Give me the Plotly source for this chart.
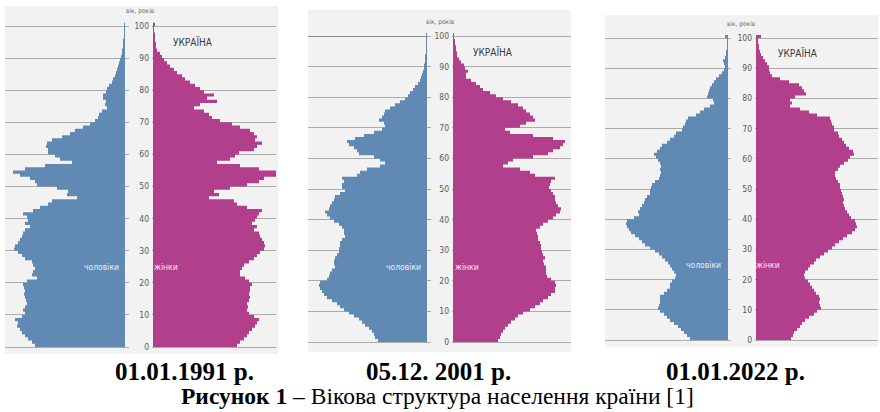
import plotly.graph_objects as go

W, H = 880, 412

ages = list(range(101))

# bar lengths (relative units, one series per sex and census)
men_1991 = [90, 93, 97, 100, 103, 105, 108, 107, 110, 103, 100, 102, 100, 98, 99, 100, 101, 100, 101, 102,
            98, 88, 93, 92, 90, 92, 93, 100, 103, 107, 111, 110, 107, 105, 103, 102, 100, 95, 100, 97,
            98, 102, 92, 85, 77, 73, 48, 58, 57, 68, 88, 90, 95, 105, 112, 100, 80, 53, 65, 70,
            77, 77, 79, 78, 73, 63, 55, 50, 42, 35, 30, 27, 26, 23, 18, 20, 19, 22, 22, 19,
            18, 16, 13, 12, 10, 9, 8, 7, 6, 5, 4, 3, 3, 2, 2, 2, 1, 1, 1, 1, 1]
women_1991 = [84, 87, 91, 94, 96, 99, 102, 104, 106, 101, 96, 94, 95, 94, 96, 97, 96, 97, 97, 99,
              96, 92, 87, 87, 89, 91, 96, 101, 104, 107, 111, 112, 111, 109, 107, 106, 101, 104, 99, 102,
              104, 106, 109, 94, 84, 81, 56, 66, 61, 77, 94, 106, 111, 126, 124, 106, 87, 64, 77, 82,
              86, 101, 104, 109, 102, 104, 101, 97, 87, 79, 67, 59, 56, 51, 41, 47, 64, 54, 61, 51,
              47, 42, 37, 32, 29, 24, 21, 17, 14, 11, 9, 7, 4, 3, 3, 2, 2, 2, 1, 1, 2]
men_2001 = [49, 52, 53, 55, 58, 62, 65, 68, 73, 78, 83, 87, 90, 95, 100, 103, 105, 107, 108, 107,
            100, 98, 97, 95, 92, 93, 93, 92, 90, 88, 88, 87, 87, 85, 82, 83, 83, 85, 88, 93,
            97, 100, 102, 98, 97, 95, 93, 92, 87, 82, 85, 85, 83, 85, 70, 67, 60, 47, 42, 47,
            53, 68, 70, 73, 78, 80, 72, 63, 53, 45, 42, 43, 48, 45, 43, 42, 37, 32, 27, 22,
            19, 17, 14, 12, 9, 7, 6, 5, 4, 3, 3, 2, 2, 2, 1, 1, 1, 1, 1, 1, 1]
women_2001 = [45, 47, 48, 50, 52, 55, 58, 62, 65, 70, 77, 82, 87, 90, 95, 98, 102, 102, 103, 102,
              98, 94, 93, 93, 93, 91, 90, 92, 90, 89, 88, 88, 87, 85, 85, 84, 83, 87, 90, 95,
              100, 103, 107, 108, 105, 103, 102, 102, 100, 98, 96, 97, 98, 102, 82, 77, 67, 50, 55, 60,
              80, 95, 100, 107, 110, 112, 100, 80, 57, 52, 67, 73, 82, 80, 77, 73, 70, 65, 58, 50,
              43, 37, 30, 27, 23, 18, 13, 13, 15, 12, 11, 8, 6, 4, 4, 3, 3, 2, 2, 1, 1]
men_2022 = [38, 41, 44, 47, 50, 54, 58, 61, 64, 68, 70, 69, 68, 68, 68, 64, 61, 58, 58, 56,
            53, 52, 54, 56, 58, 60, 63, 66, 69, 73, 78, 83, 86, 89, 93, 97, 99, 101, 102, 101,
            94, 89, 90, 88, 86, 84, 83, 81, 78, 78, 77, 76, 73, 69, 68, 67, 68, 67, 68, 70,
            72, 74, 71, 68, 66, 61, 58, 54, 52, 46, 45, 43, 42, 40, 32, 28, 24, 18, 14, 15,
            21, 20, 19, 18, 16, 14, 12, 9, 6, 4, 3, 4, 5, 3, 2, 2, 1, 1, 1, 1, 3]
women_2022 = [35, 37, 38, 41, 44, 46, 49, 53, 58, 61, 65, 64, 63, 64, 63, 60, 58, 56, 54, 52,
              49, 48, 49, 52, 54, 58, 60, 64, 68, 72, 76, 79, 83, 87, 91, 96, 99, 101, 100, 99,
              95, 93, 91, 89, 88, 87, 88, 87, 86, 85, 84, 84, 82, 80, 79, 79, 82, 84, 88, 92,
              94, 98, 97, 93, 90, 88, 86, 83, 82, 78, 78, 76, 75, 74, 61, 53, 44, 34, 36, 34,
              39, 50, 48, 46, 43, 33, 24, 16, 14, 13, 13, 11, 9, 7, 5, 4, 3, 3, 2, 2, 5]

age_ticks = [0, 10, 20, 30, 40, 50, 60, 70, 80, 90, 100]
dates = ["01.01.1991 р.", "05.12. 2001 р.", "01.01.2022 р."]
country = "УКРАЇНА"
men_label = "чоловіки"
women_label = "жінки"
axis_title = "вік, років"
caption_bold = "Рисунок 1"
caption_rest = " – Вікова структура населення країни [1]"

MEN_C = "#608AB3"
WOMEN_C = "#B23F8B"
BG = "#F2F2F2"
GRID = "#ABABAB"
NARROW = "Liberation Sans Narrow, Arial Narrow, DejaVu Sans Condensed, Roboto, Liberation Sans, sans-serif"
SERIF = "Liberation Serif, Times New Roman, serif"

# layout geometry in pixels
panels = [
    dict(men=men_1991, women=women_1991, box=(5, 6, 278, 354), men_l=5, men_zero=125, men_r=129,
         wom_l=152, wom_zero=153, wom_r=276, y0=347, y100=26,
         title_xy=(193, 42), axis_xy=(140, 11), ml_xy=(101, 267), wl_xy=(166, 267), date_x=184),
    dict(men=men_2001, women=women_2001, box=(308, 10, 571, 352), men_l=308, men_zero=427, men_r=431,
         wom_l=452, wom_zero=453, wom_r=571, y0=342, y100=36,
         title_xy=(493, 52), axis_xy=(441, 22), ml_xy=(403, 267), wl_xy=(467, 267), date_x=438),
    dict(men=men_2022, women=women_2022, box=(605, 15, 878, 347), men_l=605, men_zero=728, men_r=731,
         wom_l=755, wom_zero=756, wom_r=878, y0=340, y100=38,
         title_xy=(798, 53), axis_xy=(741, 24), ml_xy=(703, 265), wl_xy=(768, 265), date_x=735),
]

fig = go.Figure()
layout = {}
shapes = []
annotations = []

step_y = ages + [ages[-1] + 1]

for k, p in enumerate(panels):
    mx = 2 * k + 1
    wx = 2 * k + 2
    mxn = "x" if mx == 1 else f"x{mx}"
    wxn = f"x{wx}"
    myn = "y" if mx == 1 else f"y{mx}"
    wyn = f"y{wx}"

    # one-year bars drawn as a stepped filled outline (no seams between bars)
    for vals, color, xa, ya in ((p["men"], MEN_C, mxn, myn), (p["women"], WOMEN_C, wxn, wyn)):
        fig.add_trace(go.Scatter(x=vals + [vals[-1]], y=step_y, mode="lines", line_shape="vh",
                                 line=dict(color=color, width=0), fill="tozerox", fillcolor=color,
                                 xaxis=xa, yaxis=ya, showlegend=False, hoverinfo="skip"))

    bl, bt, br, bb = p["box"]
    shapes.append(dict(type="rect", xref="paper", yref="paper", layer="below",
                       x0=bl / W, x1=br / W, y0=1 - bb / H, y1=1 - bt / H,
                       fillcolor=BG, line=dict(width=0)))

    s = (p["y0"] - p["y100"]) / 100.0
    pt, pb = bt + 2, bb - 2
    yrange = [(p["y0"] - pb) / s, (p["y0"] - pt) / s]
    ydom = [1 - pb / H, 1 - pt / H]

    xcommon = dict(showgrid=False, zeroline=False, showticklabels=False, showline=False, ticks="", fixedrange=True)
    layout[mxn.replace("x", "xaxis")] = dict(xcommon, domain=[p["men_l"] / W, p["men_r"] / W],
                                             range=[p["men_zero"] - p["men_l"], -(p["men_r"] - p["men_zero"])],
                                             anchor=myn)
    layout[wxn.replace("x", "xaxis")] = dict(xcommon, domain=[p["wom_l"] / W, p["wom_r"] / W],
                                             range=[-(p["wom_zero"] - p["wom_l"]), p["wom_r"] - p["wom_zero"]],
                                             anchor=wyn)
    ycommon = dict(domain=ydom, range=yrange, tickmode="array", tickvals=age_ticks,
                   showgrid=True, gridcolor=GRID, gridwidth=1.4, zeroline=False, showline=False,
                   ticks="", fixedrange=True)
    layout[myn.replace("y", "yaxis")] = dict(ycommon, anchor=mxn, showticklabels=False)
    layout[wyn.replace("y", "yaxis")] = dict(ycommon, anchor=wxn, showticklabels=True, side="left",
                                             ticklabelstandoff=2,
                                             tickfont=dict(family=NARROW, size=8.5, color="#595959"))

    def ann(text, xy, size, color, family=NARROW):
        annotations.append(dict(text=text, x=xy[0] / W, y=1 - xy[1] / H, xref="paper", yref="paper",
                                xanchor="center", yanchor="middle", showarrow=False,
                                font=dict(family=family, size=size, color=color)))

    ann(country, p["title_xy"], 10, "#3A3A3A")
    ann(axis_title, p["axis_xy"], 6.5, "#6A6A6A")
    ann(men_label, p["ml_xy"], 8.5, "#E8EEF5")
    ann(women_label, p["wl_xy"], 8.5, "#F7E8F1")
    ann("<b>" + dates[k] + "</b>", (p["date_x"], 371), 25, "#000000", SERIF)

# darker line at the top of the middle chart
shapes.append(dict(type="line", xref="paper", yref="paper", layer="above",
                   x0=308 / W, x1=427 / W, y0=1 - 36.5 / H, y1=1 - 36.5 / H,
                   line=dict(color="#8A8A8A", width=1.2)))

annotations.append(dict(text="<b>" + caption_bold + "</b>" + caption_rest, x=437.5 / W, y=1 - 395.5 / H,
                        xref="paper", yref="paper", xanchor="center", yanchor="middle", showarrow=False,
                        font=dict(family=SERIF, size=23.5, color="#000000")))

fig.update_layout(width=W, height=H, margin=dict(l=0, r=0, t=0, b=0), autosize=False,
                  paper_bgcolor="white", plot_bgcolor="rgba(0,0,0,0)",
                  shapes=shapes, annotations=annotations,
                  showlegend=False, **layout)

fig.write_html("out.html", config={"displayModeBar": False},
               post_script="document.body.style.margin='0px';document.body.style.overflow='hidden';")
